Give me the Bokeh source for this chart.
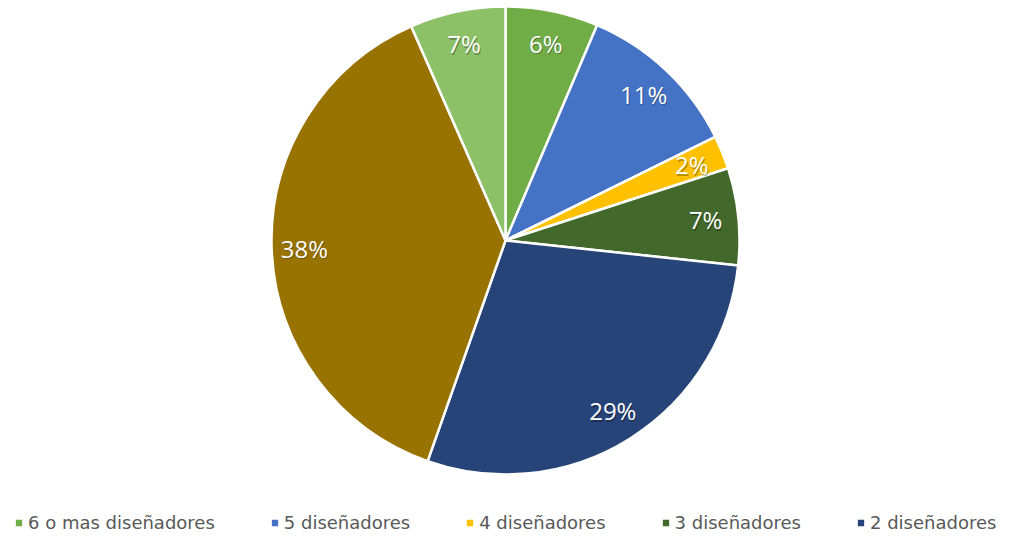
import math
from bokeh.plotting import figure
from bokeh.models import Range1d, ColumnDataSource, Legend, LegendItem
from bokeh.core.properties import value
from bokeh.embed import file_html
from bokeh.resources import INLINE

# ---- data ----
categories = ["6 o mas diseñadores", "5 diseñadores", "4 diseñadores",
              "3 diseñadores", "2 diseñadores", "1 diseñador", "Ninguno"]
shares = [6.4, 11.3, 2.3, 6.7, 28.7, 38.0, 6.6]
colors = ["#70AD47", "#4472C4", "#FFC000", "#43682B", "#264478", "#997300", "#8CC168"]
legend_count = 5  # legend shows the first five categories

# ---- layout ----
W, H = 1010, 539
cx, cy = 505, H - 240
R = 234
label_r = 0.86 * R

total = sum(shares)
starts, ends, lx, ly, labels = [], [], [], [], []
cum = 0.0
for s in shares:
    a0 = math.pi / 2 - 2 * math.pi * cum / total
    cum += s
    a1 = math.pi / 2 - 2 * math.pi * cum / total
    starts.append(a0)
    ends.append(a1)
    mid = (a0 + a1) / 2
    lx.append(cx + label_r * math.cos(mid))
    ly.append(cy + label_r * math.sin(mid))
    labels.append(f"{round(100 * s / total)}%")

src = ColumnDataSource(dict(start=starts, end=ends, color=colors, cat=categories,
                            lx=lx, ly=ly, label=labels,
                            sx=[v + 1 for v in lx], sy=[v - 1.5 for v in ly]))

p = figure(width=W, height=H, output_backend="svg", toolbar_location=None,
           x_range=Range1d(0, W), y_range=Range1d(0, H), min_border=0,
           outline_line_color=None)
p.axis.visible = False
p.grid.visible = False
p.background_fill_color = "white"
p.border_fill_color = "white"

r = p.wedge(x=cx, y=cy, radius=R, start_angle="start", end_angle="end",
            direction="clock", fill_color="color", line_color="white",
            line_width=2.5, source=src)

p.text(x="sx", y="sy", text="label", source=src, text_color="#000000", text_alpha=0.3,
       text_font=value("Open Sans"), text_font_size="24px",
       text_align="center", text_baseline="middle")
p.text(x="lx", y="ly", text="label", source=src, text_color="white",
       text_font=value("Open Sans"), text_font_size="24px",
       text_align="center", text_baseline="middle")

items = [LegendItem(label=categories[i], renderers=[r], index=i) for i in range(legend_count)]
legend = Legend(items=items, orientation="horizontal", location=(13, 6),
                glyph_width=11, glyph_height=11, label_standoff=4, spacing=54,
                padding=0, margin=0, background_fill_alpha=0, border_line_color=None,
                label_text_color="#595959", label_text_font="DejaVu Sans",
                label_text_font_size="18px", label_height=20)
p.add_layout(legend, "center")

open("out.html", "w").write(file_html(p, INLINE))
